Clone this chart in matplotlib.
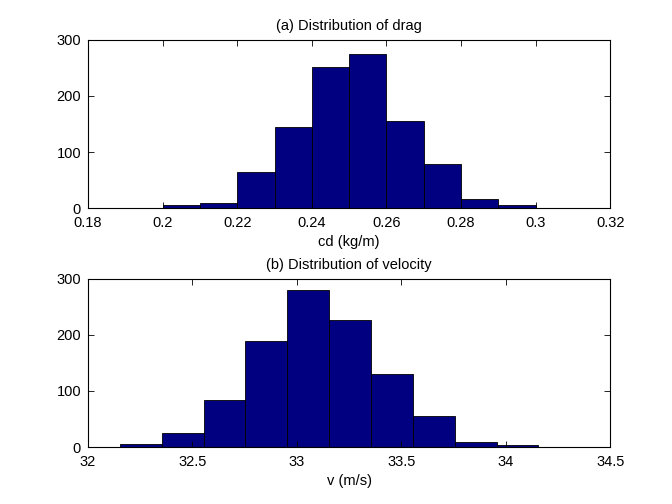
import matplotlib
matplotlib.use("Agg")
import matplotlib.pyplot as plt

# Histogram (a): drag coefficient cd (kg/m)
cd_edges = [0.20, 0.21, 0.22, 0.23, 0.24, 0.25, 0.26, 0.27, 0.28, 0.29, 0.30]
cd_counts = [5, 10, 64, 145, 251, 274, 156, 78, 16, 5]

# Histogram (b): velocity v (m/s)
v_edges = [32.152, 32.353, 32.553, 32.753, 32.954, 33.154, 33.355, 33.555, 33.755, 33.956, 34.156]
v_counts = [5, 25, 84, 189, 280, 226, 131, 56, 9, 3]

plt.rcParams["font.family"] = ["Liberation Sans", "DejaVu Sans"]
plt.rcParams["font.size"] = 10.5

fig = plt.figure(figsize=(6.72, 5.04), dpi=100)
ax1 = fig.add_axes([0.131, 0.587, 0.777, 0.334])
ax2 = fig.add_axes([0.131, 0.113, 0.777, 0.334])


def hist_panel(ax, edges, counts, xlim, xticks, xticklabels, xlabel, title):
    widths = [edges[i + 1] - edges[i] for i in range(len(counts))]
    ax.bar(edges[:-1], counts, width=widths, align="edge",
           color="#000080", edgecolor="black", linewidth=0.6)
    ax.set_xlim(*xlim)
    ax.set_ylim(0, 300)
    ax.set_xticks(xticks)
    ax.set_xticklabels(xticklabels)
    ax.set_yticks([0, 100, 200, 300])
    ax.tick_params(direction="in", top=True, right=True, length=4, width=0.6)
    ax.tick_params(axis="x", pad=6)
    ax.tick_params(axis="y", pad=5)
    for s in ax.spines.values():
        s.set_linewidth(0.8)
    ax.set_xlabel(xlabel, labelpad=3)
    ax.set_title(title, fontsize=10.5, pad=7)


hist_panel(ax1, cd_edges, cd_counts, (0.18, 0.32),
           [0.18, 0.2, 0.22, 0.24, 0.26, 0.28, 0.3, 0.32],
           ["0.18", "0.2", "0.22", "0.24", "0.26", "0.28", "0.3", "0.32"],
           "cd (kg/m)", "(a) Distribution of drag")
hist_panel(ax2, v_edges, v_counts, (32, 34.5),
           [32, 32.5, 33, 33.5, 34, 34.5],
           ["32", "32.5", "33", "33.5", "34", "34.5"],
           "v (m/s)", "(b) Distribution of velocity")

fig.savefig("out.png", dpi=100, facecolor="white")
